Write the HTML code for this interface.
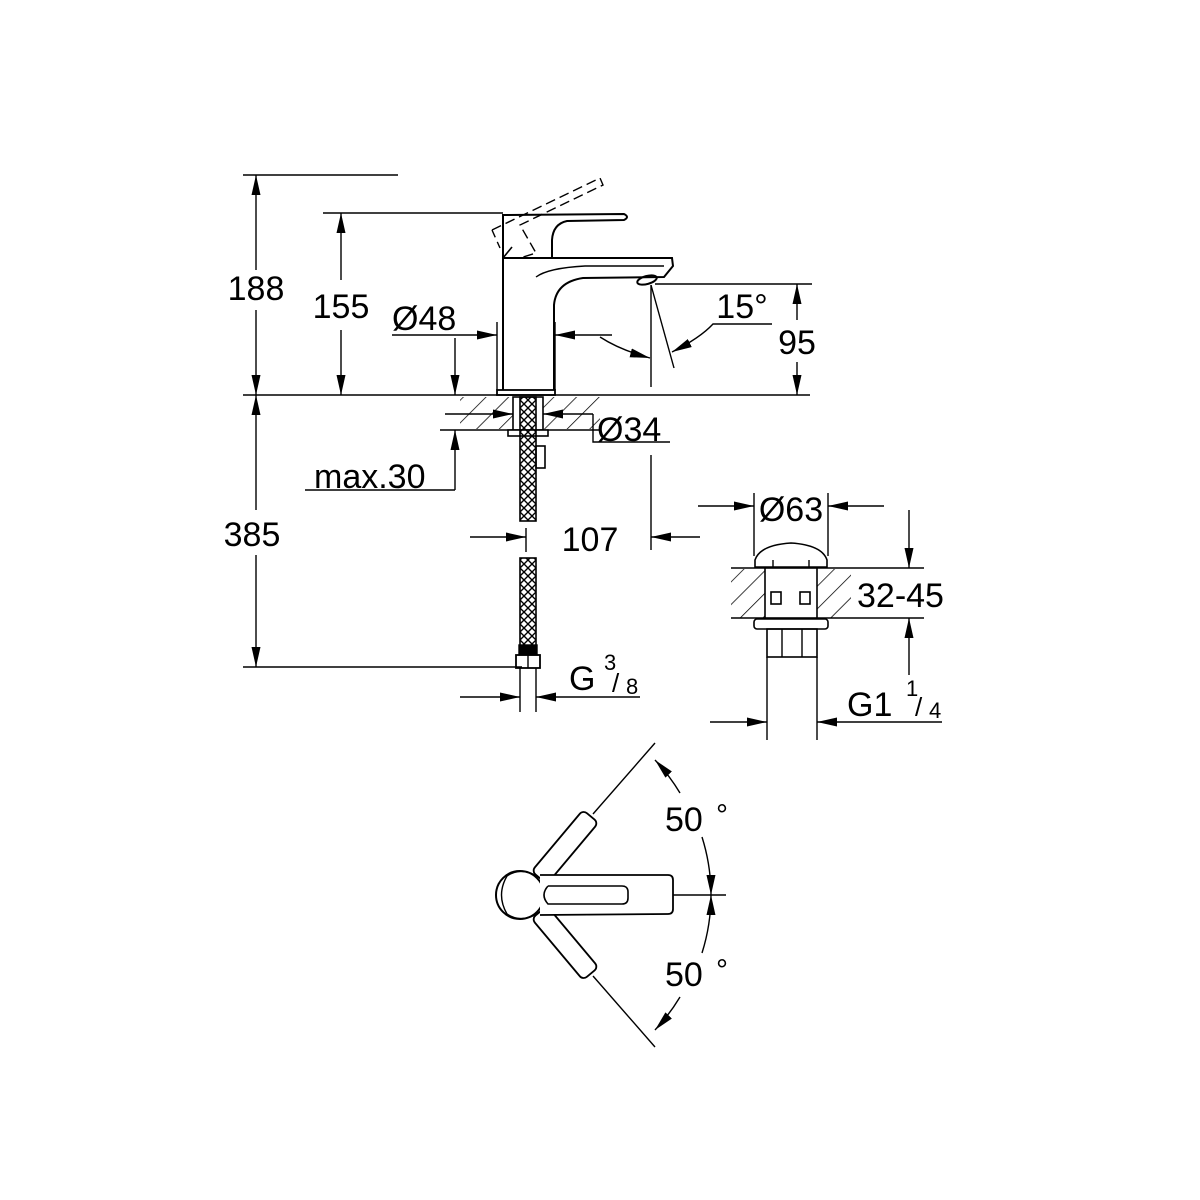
<!DOCTYPE html>
<html><head><meta charset="utf-8"><style>
html,body{margin:0;padding:0;background:#fff}
svg{display:block}
text{font-family:"Liberation Sans",sans-serif;fill:#000}
</style></head><body>
<svg width="1200" height="1200" viewBox="0 0 1200 1200" xmlns="http://www.w3.org/2000/svg">
<defs>
<marker id="a" viewBox="0 0 20 9" refX="20" refY="4.5" markerWidth="20" markerHeight="9" markerUnits="userSpaceOnUse" orient="auto-start-reverse"><path d="M0,0 L20,4.5 L0,9z" fill="#000"/></marker>
<pattern id="h" patternUnits="userSpaceOnUse" width="16" height="16" patternTransform="rotate(45)"><line x1="0" y1="0" x2="0" y2="16" stroke="#000" stroke-width="1.5"/></pattern>
<pattern id="x" patternUnits="userSpaceOnUse" width="8" height="8"><path d="M0,0 L8,8 M8,0 L0,8" stroke="#000" stroke-width="1.4"/></pattern>
</defs>
<g stroke="#000" stroke-width="1.4" fill="none">
<line x1="243" y1="175" x2="398" y2="175"/>
<line x1="323" y1="213" x2="503" y2="213"/>
<line x1="243" y1="395" x2="810" y2="395"/>
<line x1="243" y1="667" x2="522" y2="667"/>
<line x1="655" y1="284" x2="812" y2="284"/>
<line x1="256" y1="270" x2="256" y2="175" marker-end="url(#a)"/>
<line x1="256" y1="310" x2="256" y2="395" marker-end="url(#a)"/>
<line x1="341" y1="280" x2="341" y2="213" marker-end="url(#a)"/>
<line x1="341" y1="330" x2="341" y2="395" marker-end="url(#a)"/>
<line x1="256" y1="510" x2="256" y2="395" marker-end="url(#a)"/>
<line x1="256" y1="555" x2="256" y2="667" marker-end="url(#a)"/>
<line x1="797" y1="320" x2="797" y2="284" marker-end="url(#a)"/>
<line x1="797" y1="362" x2="797" y2="395" marker-end="url(#a)"/>
<path d="M503 390 L503 258 L672 258 L673 266 L664 277 L583 278 Q556 282 554 305 L554 390" stroke-width="2"/>
<path d="M536 277 Q548 268 585 266 L664 266" stroke-width="1.4"/>
<rect x="497" y="390" width="58" height="5" stroke-width="1.8"/>
<ellipse cx="647" cy="280" rx="10" ry="4" transform="rotate(-15 647 280)" stroke-width="2"/>
<path d="M503 258 L503 215 L624 214 Q630 217 624 220 L567 221 Q553 224 552 240 L552 258" stroke-width="2"/>
<path d="M503 258 L512 247" stroke-width="1.6"/>
<path d="M492 230 L600 178 L603 185 L520 225 L536 253 L520 258" stroke-dasharray="10,5" stroke-width="1.4"/>
<path d="M492 230 L500 248" stroke-dasharray="8,5"/>
<line x1="497" y1="322" x2="497" y2="390"/>
<line x1="555" y1="322" x2="555" y2="390"/>
<line x1="392" y1="335" x2="497" y2="335" marker-end="url(#a)"/>
<line x1="612" y1="335" x2="555" y2="335" marker-end="url(#a)"/>
<line x1="455" y1="338" x2="455" y2="395" marker-end="url(#a)"/>
<line x1="455" y1="490" x2="455" y2="430" marker-end="url(#a)"/>
<line x1="305" y1="490" x2="455" y2="490"/>
<line x1="651" y1="285" x2="651" y2="387"/>
<line x1="651" y1="285" x2="674" y2="368"/>
<path d="M600 337 Q620 350 650 358" marker-end="url(#a)"/>
<path d="M772 324 L713 324 Q700 338 672 352" marker-end="url(#a)"/>
<rect x="460" y="397" width="140" height="32" fill="url(#h)" stroke="none"/>
<line x1="440" y1="430" x2="600" y2="430"/>
<rect x="513" y="397" width="30" height="33" fill="#fff" stroke-width="1.6"/>
<rect x="508" y="430" width="40" height="6" fill="#fff" stroke-width="1.6"/>
<line x1="445" y1="414" x2="513" y2="414" marker-end="url(#a)"/>
<line x1="593" y1="414" x2="543" y2="414" marker-end="url(#a)"/>
<path d="M593 414 L593 442 L670 442"/>
<rect x="520" y="397" width="16" height="124" fill="url(#x)" stroke-width="1.6"/>
<rect x="520" y="558" width="16" height="88" fill="url(#x)" stroke-width="1.6"/>
<rect x="536" y="446" width="9" height="22" stroke-width="1.6"/>
<rect x="519" y="645" width="18" height="10" fill="#000"/>
<rect x="516" y="655" width="24" height="13" stroke-width="1.8"/>
<line x1="528" y1="655" x2="528" y2="668"/>
<line x1="520" y1="668" x2="520" y2="712"/>
<line x1="536" y1="668" x2="536" y2="712"/>
<line x1="651" y1="455" x2="651" y2="550"/>
<line x1="470" y1="537" x2="526" y2="537" marker-end="url(#a)"/>
<line x1="700" y1="537" x2="651" y2="537" marker-end="url(#a)"/>
<line x1="526" y1="528" x2="526" y2="552"/>
<line x1="460" y1="697" x2="520" y2="697" marker-end="url(#a)"/>
<line x1="640" y1="697" x2="536" y2="697" marker-end="url(#a)"/>
<line x1="754" y1="493" x2="754" y2="556"/>
<line x1="828" y1="493" x2="828" y2="556"/>
<line x1="698" y1="506" x2="754" y2="506" marker-end="url(#a)"/>
<line x1="884" y1="506" x2="828" y2="506" marker-end="url(#a)"/>
<rect x="731" y="569" width="120" height="49" fill="url(#h)" stroke="none"/>
<line x1="731" y1="568" x2="924" y2="568"/>
<line x1="731" y1="618" x2="924" y2="618"/>
<path d="M755 560 Q760 545 791 543 Q822 545 827 560 L827 567 L755 567 Z" fill="#fff" stroke-width="1.6"/>
<line x1="773" y1="560" x2="773" y2="567"/><line x1="809" y1="560" x2="809" y2="567"/>
<rect x="765" y="568" width="52" height="50" fill="#fff" stroke-width="1.6"/>
<rect x="771" y="592" width="10" height="12" stroke-width="1.6"/><rect x="800" y="592" width="10" height="12" stroke-width="1.6"/>
<rect x="754" y="619" width="74" height="10" rx="3" fill="#fff" stroke-width="1.6"/>
<rect x="767" y="629" width="50" height="28" stroke-width="1.6"/>
<line x1="782" y1="629" x2="782" y2="657"/><line x1="802" y1="629" x2="802" y2="657"/>
<line x1="767" y1="657" x2="767" y2="740"/>
<line x1="817" y1="657" x2="817" y2="740"/>
<line x1="909" y1="510" x2="909" y2="568" marker-end="url(#a)"/>
<line x1="909" y1="675" x2="909" y2="618" marker-end="url(#a)"/>
<line x1="710" y1="722" x2="767" y2="722" marker-end="url(#a)"/>
<line x1="942" y1="722" x2="817" y2="722" marker-end="url(#a)"/>
<!-- plan view -->
<line x1="518" y1="895" x2="726" y2="895"/>
<line x1="593" y1="814" x2="655" y2="743"/>
<line x1="593" y1="976" x2="655" y2="1047"/>
<rect x="-40" y="-10" width="80" height="20" rx="5" transform="translate(565,847) rotate(-50)" fill="#fff" stroke-width="1.8"/>
<rect x="-40" y="-10" width="80" height="20" rx="5" transform="translate(565,943) rotate(50)" fill="#fff" stroke-width="1.8"/>
<circle cx="520" cy="895" r="24" fill="#fff" stroke-width="2"/>
<path d="M540 878 Q522 866 507 876 Q496 895 507 914 Q522 924 540 912" stroke-width="1.4"/>
<path d="M540 875 L668 875 Q673 875 673 880 L673 909 Q673 914 668 914 L540 915" fill="#fff" stroke-width="1.8"/>
<path d="M548 886 L622 886 Q628 886 628 892 L628 898 Q628 904 622 904 L548 904 Q540 895 548 886" stroke-width="1.6"/>
<path d="M680 793 A193 193 0 0 0 655 760" marker-end="url(#a)"/>
<path d="M702 837 A193 193 0 0 1 711 895" marker-end="url(#a)"/>
<path d="M702 953 A193 193 0 0 0 711 895" marker-end="url(#a)"/>
<path d="M680 997 A193 193 0 0 1 655 1030" marker-end="url(#a)"/>
</g>
<g font-size="34">
<text x="256" y="300" text-anchor="middle">188</text>
<text x="341" y="318" text-anchor="middle">155</text>
<text x="252" y="546" text-anchor="middle">385</text>
<text x="797" y="354" text-anchor="middle">95</text>
<text x="392" y="330">Ø48</text>
<text x="742" y="318" text-anchor="middle">15°</text>
<text x="597" y="441">Ø34</text>
<text x="314" y="488">max.30</text>
<text x="590" y="551" text-anchor="middle">107</text>
<text x="569" y="690">G</text>
<text x="604" y="670" font-size="22">3</text>
<text x="612" y="692" font-size="26">/</text>
<text x="626" y="694" font-size="22">8</text>
<text x="791" y="521" text-anchor="middle">Ø63</text>
<text x="857" y="607">32-45</text>
<text x="847" y="716">G1</text>
<text x="906" y="696" font-size="22">1</text>
<text x="915" y="716" font-size="26">/</text>
<text x="929" y="718" font-size="22">4</text>
<text x="665" y="831">50</text>
<text x="716" y="825" font-size="30">°</text>
<text x="665" y="986">50</text>
<text x="716" y="980" font-size="30">°</text>
</g>
</svg>
</body></html>
